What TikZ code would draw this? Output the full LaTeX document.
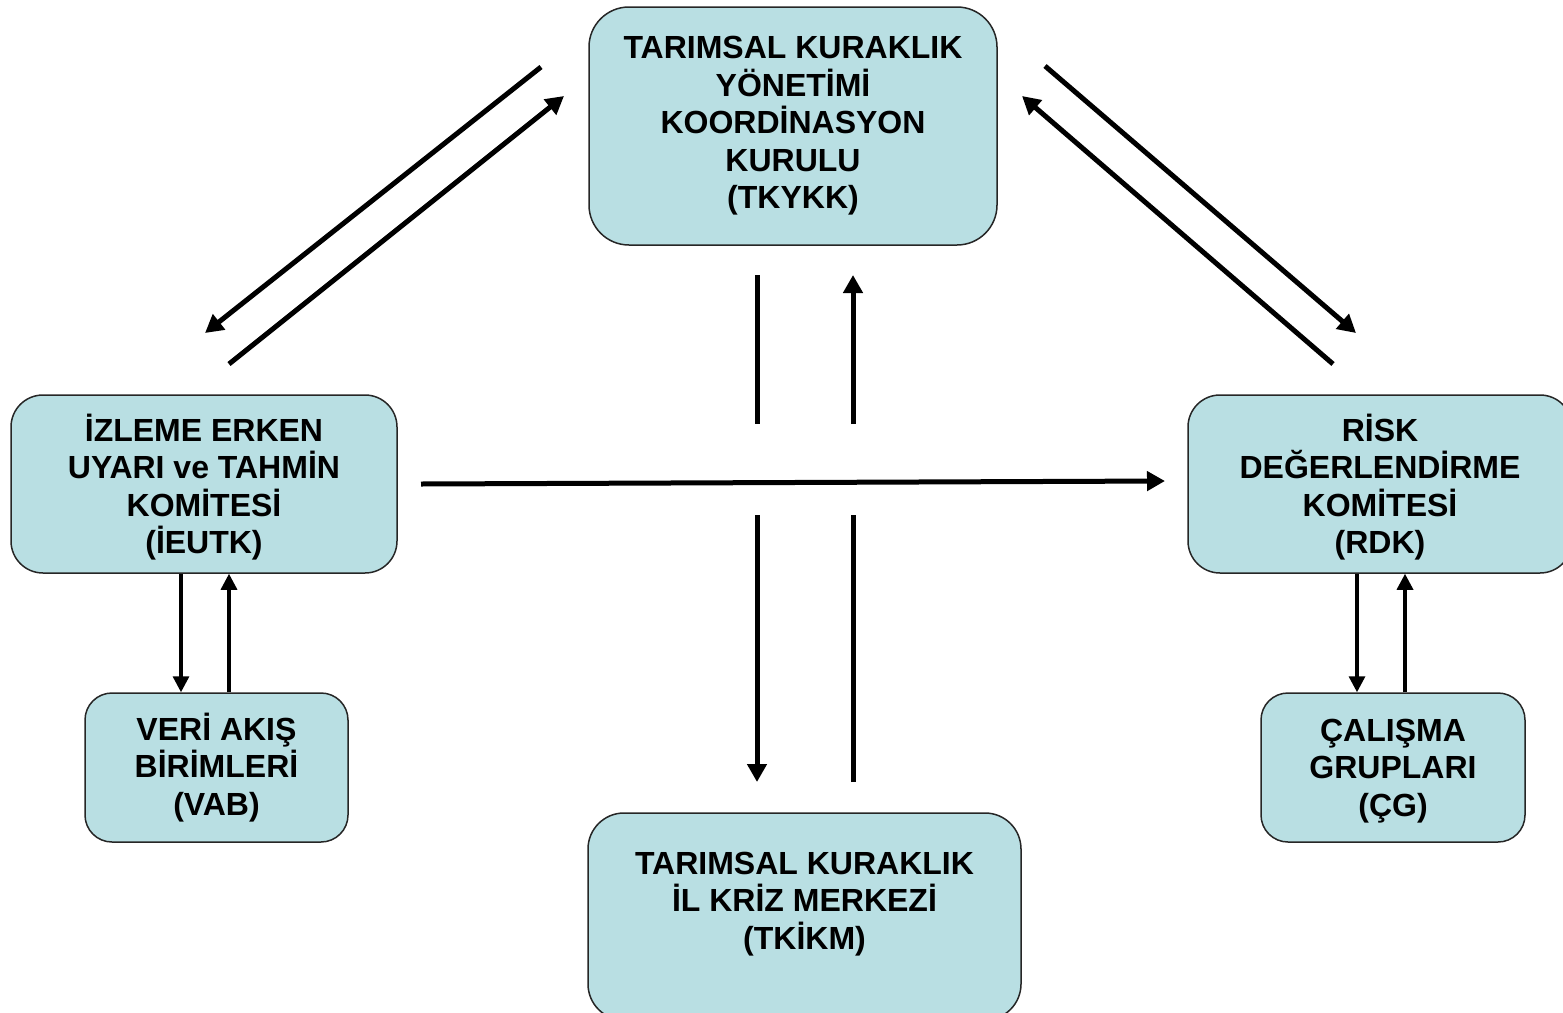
\documentclass[tikz,border=0pt]{standalone}
\usepackage{fontspec}
\setmainfont{Liberation Sans}
\usetikzlibrary{arrows.meta,positioning}
\definecolor{kutumavi}{RGB}{185,223,227}

\begin{document}
\begin{tikzpicture}[x=1pt, y=-1pt,
        kurul/.style={rectangle, draw=black!85, line width=1.5pt, fill=kutumavi, align=center, inner sep=0pt,
        font=\fontsize{32}{37.5}\selectfont\bfseries},
        kalinok/.style={line width=5pt, -{Triangle[length=18pt,width=19pt]}},
        kalincizgi/.style={line width=5pt},
        inceok/.style={line width=3.3pt, -{Triangle[length=16pt,width=16pt]}}]
        \useasboundingbox (0,0) rectangle (1563,1012);
        \node[kurul, minimum width=408pt, minimum height=238pt, rounded corners=40pt] (tkykk) at (793,126)
        {TARIMSAL KURAKLIK\\YÖNETİMİ\\KOORDİNASYON\\KURULU\\(TKYKK)};
        \node[kurul, minimum width=386pt, minimum height=178pt, rounded corners=32pt, text depth=0pt] (ieutk) at (204,484)
        {İZLEME ERKEN\\UYARI ve TAHMİN\\KOMİTESİ\\(İEUTK)};
        \node[kurul, minimum width=384pt, minimum height=178pt, rounded corners=32pt, text depth=0pt] (rdk) at (1380,484)
        {RİSK\\DEĞERLENDİRME\\KOMİTESİ\\(RDK)};
        \node[kurul, minimum width=263pt, minimum height=149pt, rounded corners=27pt] (vab) at (216.5,767.5)
        {VERİ AKIŞ\\BİRİMLERİ\\(VAB)};
        \node[kurul, minimum width=264pt, minimum height=149pt, rounded corners=27pt, text depth=0pt] (cg) at (1393,767.5)
        {ÇALIŞMA\\GRUPLARI\\(ÇG)};
        \node[kurul, minimum width=433pt, minimum height=207pt, rounded corners=36pt, text depth=32pt] (tkikm) at (804.5,916.5)
        {TARIMSAL KURAKLIK\\İL KRİZ MERKEZİ\\(TKİKM)};

        \coordinate (sol1) at (541,67);
        \coordinate (sol2) at (205,333);
        \coordinate (sol3) at (229,364);
        \coordinate (sol4) at (564,96);
        \coordinate (sag1) at (1045,66);
        \coordinate (sag2) at (1356,333);
        \coordinate (sag3) at (1333,364);
        \coordinate (sag4) at (1022,96);
        \coordinate (ust1) at (757,275);
        \coordinate (ust2) at (757,424);
        \coordinate (ust3) at (853,424);
        \coordinate (ust4) at (853,275);
        \coordinate (alt1) at (757,515);
        \coordinate (alt2) at (757,782);
        \coordinate (alt3) at (853,782);
        \coordinate (alt4) at (853,515);
        \coordinate (orta1) at (421,484);
        \coordinate (orta2) at (1165,481);

        \draw[kalinok] (sol1) -- (sol2);
        \draw[kalinok] (sol3) -- (sol4);
        \draw[kalinok] (sag1) -- (sag2);
        \draw[kalinok] (sag3) -- (sag4);
        \draw[kalincizgi] (ust1) -- (ust2);
        \draw[kalinok] (ust3) -- (ust4);
        \draw[kalinok] (alt1) -- (alt2);
        \draw[kalincizgi] (alt3) -- (alt4);
        \draw[kalinok] (orta1) -- (orta2);

        \draw[inceok] ([xshift=-23pt]ieutk.south) -- ([xshift=-23pt]ieutk.south |- vab.north);
        \draw[inceok] ([xshift=25pt]ieutk.south |- vab.north) -- ([xshift=25pt]ieutk.south);
        \draw[inceok] ([xshift=-23pt]rdk.south) -- ([xshift=-23pt]rdk.south |- cg.north);
        \draw[inceok] ([xshift=25pt]rdk.south |- cg.north) -- ([xshift=25pt]rdk.south);
\end{tikzpicture}
\end{document}
